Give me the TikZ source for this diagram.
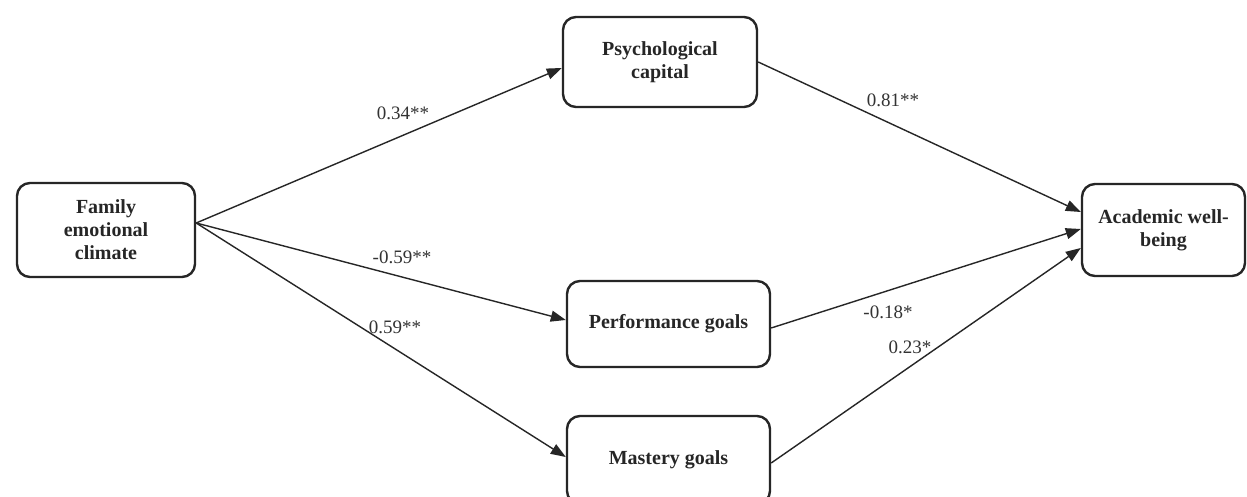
\documentclass[tikz,border=0pt]{standalone}
\usepackage{fontspec}
\setmainfont{Liberation Serif}
\usetikzlibrary{arrows.meta}
\tikzset{
  box/.style={draw=black!85, line width=2.4pt, rounded corners=13pt, align=center,
    font=\fontsize{20}{23}\selectfont\bfseries, text=black!85, inner sep=0pt},
  conn/.style={draw=black!85, line width=1.4pt, -{Triangle[length=15pt,width=11pt]}},
  lab/.style={font=\fontsize{19}{21}\selectfont, text=black!80, inner sep=0pt}
}
\begin{document}
\begin{tikzpicture}[x=1pt,y=1pt]
\useasboundingbox (0,0) rectangle (1247,497);
\clip (0,0) rectangle (1247,497);
\fill[white] (0,0) rectangle (1247,497);
\node[box, minimum width=178pt, minimum height=94pt] (fam) at (106,267) {Family\\emotional\\climate};
\node[box, minimum width=194pt, minimum height=90pt] (psy) at (660,435) {Psychological\\capital};
\node[box, minimum width=163pt, minimum height=92pt] (aca) at (1163.5,267) {Academic well-\\being};
\node[box, minimum width=203pt, minimum height=86pt] (perf) at (668.5,173) {Performance goals};
\node[box, minimum width=203pt, minimum height=88pt] (mast) at (668.5,37) {Mastery goals};
\coordinate (src) at ([yshift=7pt]fam.east);
\draw[conn] (src) -- ([yshift=-6pt]psy.west);
\draw[conn] (src) -- ([yshift=4pt]perf.west);
\draw[conn] (src) -- ([yshift=3pt]mast.west);
\draw[conn] (psy.east) -- ([yshift=18pt]aca.west);
\draw[conn] ([yshift=-4pt]perf.east) -- ([yshift=1pt]aca.west);
\draw[conn] ([yshift=-3pt]mast.east) -- ([yshift=-18pt]aca.west);
\node[lab] (l1) at (403,384) {0.34**};
\node[lab] (l2) at (402,240) {-0.59**};
\node[lab] (l3) at (395,170) {0.59**};
\node[lab] (l4) at (893,397) {0.81**};
\node[lab] (l5) at (888,185) {-0.18*};
\node[lab] (l6) at (910,150) {0.23*};
\end{tikzpicture}
\end{document}
